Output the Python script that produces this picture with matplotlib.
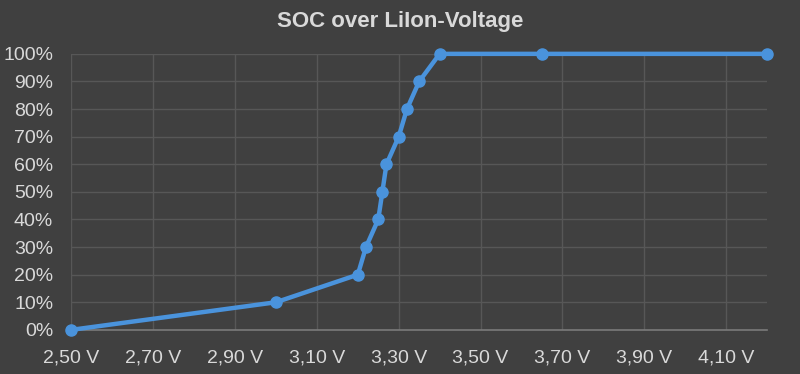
import matplotlib.pyplot as plt
import matplotlib.ticker as mticker
import numpy as np

# SOC over Li-Ion cell voltage
voltage = [2.50, 3.00, 3.20, 3.22, 3.25, 3.26, 3.27, 3.30, 3.32, 3.35, 3.40, 3.65, 4.20]
soc = [0.0, 0.10, 0.20, 0.30, 0.40, 0.50, 0.60, 0.70, 0.80, 0.90, 1.00, 1.00, 1.00]

x_ticks = [2.50, 2.70, 2.90, 3.10, 3.30, 3.50, 3.70, 3.90, 4.10]
y_ticks = np.arange(0, 1.01, 0.1)

BG = '#404040'
GRID = '#575757'
TEXT = '#d9d9d9'
LINE = '#4a93dc'

plt.rcParams['font.family'] = ['Liberation Sans', 'DejaVu Sans']

fig = plt.figure(figsize=(8.0, 3.74), dpi=100, facecolor=BG)
ax = fig.add_axes([0.089, 0.118, 0.870, 0.738])
ax.set_facecolor(BG)

ax.plot(voltage, soc, color=LINE, linewidth=3.2, marker='o', markersize=8,
        solid_capstyle='round', zorder=3, clip_on=False)

ax.set_xlim(2.50, 4.20)
ax.set_ylim(0, 1.0)
ax.set_xticks(x_ticks)
ax.set_yticks(y_ticks)
ax.xaxis.set_major_formatter(mticker.FuncFormatter(lambda v, _: f'{v:.2f} V'.replace('.', ',')))
ax.yaxis.set_major_formatter(mticker.FuncFormatter(lambda v, _: f'{v * 100:.0f}%'))

ax.grid(True, color=GRID, linewidth=1.0)
ax.set_axisbelow(True)
for side in ('top', 'right', 'left'):
    ax.spines[side].set_visible(False)
ax.spines['bottom'].set_color('#7a7a7a')
ax.spines['bottom'].set_linewidth(1.2)

ax.tick_params(length=0, colors=TEXT, labelsize=14)
ax.tick_params(axis='x', pad=14)
ax.tick_params(axis='y', pad=13)

fig.text(0.5, 0.943, 'SOC over LiIon-Voltage', ha='center', va='center',
         color=TEXT, fontsize=16, fontweight='bold')

fig.savefig('out.png', dpi=100, facecolor=BG)
